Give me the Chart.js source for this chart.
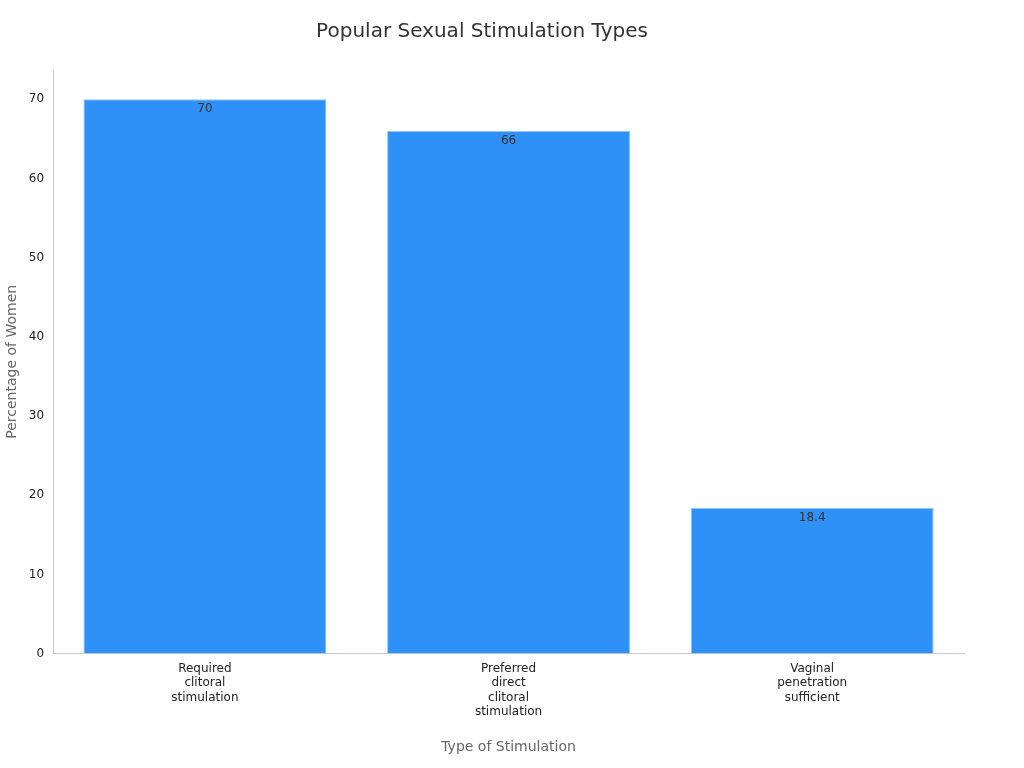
<!DOCTYPE html>
<html>
<head>
<meta charset="utf-8">
<script src="https://cdn.jsdelivr.net/npm/chart.js@4"></script>
<style>
  html, body { margin: 0; padding: 0; background: #fff; }
  #wrap { width: 1024px; height: 768px; }
</style>
</head>
<body>
<div id="wrap"><canvas id="chart"></canvas></div>
<script>
const categories = [
    ['Required', 'clitoral', 'stimulation'],
    ['Preferred', 'direct', 'clitoral', 'stimulation'],
    ['Vaginal', 'penetration', 'sufficient']
];
const percentages = [70, 66, 18.4];

// draws value text just inside the top of each bar
const barLabels = {
    id: 'barLabels',
    afterDatasetsDraw(chart) {
        const ctx = chart.ctx;
        const meta = chart.getDatasetMeta(0);
        ctx.save();
        ctx.font = '12px "DejaVu Sans"';
        ctx.fillStyle = '#333';
        ctx.textAlign = 'center';
        ctx.textBaseline = 'top';
        meta.data.forEach((bar, i) => {
            ctx.fillText(String(percentages[i]), bar.x, bar.y + 4);
        });
        ctx.restore();
    }
};

new Chart(document.getElementById('chart'), {
    type: 'bar',
    data: {
        labels: categories,
        datasets: [{
            data: percentages,
            backgroundColor: '#2f91f7',
            borderColor: '#8ec4fb',
            borderWidth: 1,
            categoryPercentage: 0.8,
            barPercentage: 1
        }]
    },
    options: {
        responsive: true,
        maintainAspectRatio: false,
        animation: false,
        layout: { padding: { left: 0, right: 60, top: 10, bottom: 8 } },
        scales: {
            x: {
                grid: { display: false, drawTicks: false },
                border: { color: '#ccc' },
                ticks: { color: '#222', font: { family: 'DejaVu Sans', size: 12 }, padding: 8, maxRotation: 0 },
                title: { display: true, text: 'Type of Stimulation', color: '#666', font: { family: 'DejaVu Sans', size: 14 }, padding: { top: 12 } }
            },
            y: {
                min: 0,
                max: 73.7,
                afterBuildTicks: axis => { axis.ticks = [0, 10, 20, 30, 40, 50, 60, 70].map(v => ({ value: v })); },
                grid: { display: false, drawOnChartArea: false, drawTicks: true, tickLength: 5, tickColor: '#999' },
                border: { color: '#ccc' },
                ticks: { color: '#222', font: { family: 'DejaVu Sans', size: 12 }, padding: 4 },
                title: { display: true, text: 'Percentage of Women', color: '#666', font: { family: 'DejaVu Sans', size: 14 } }
            }
        },
        plugins: {
            legend: { display: false },
            tooltip: { enabled: false },
            title: {
                display: true,
                text: 'Popular Sexual Stimulation Types',
                color: '#333',
                font: { family: 'DejaVu Sans', size: 20, weight: 'normal' },
                padding: { top: 10, bottom: 26 }
            }
        }
    },
    plugins: [barLabels]
});
</script>
</body>
</html>
